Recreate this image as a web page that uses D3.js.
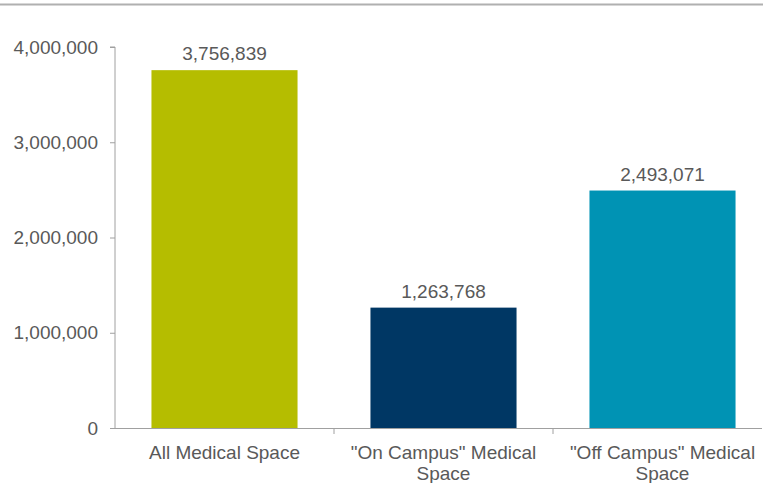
<!DOCTYPE html>
<html><head><meta charset="utf-8">
<script src="https://cdn.jsdelivr.net/npm/d3@7"></script>
<style>body{margin:0;background:#fff}svg{display:block}text{font-family:"Liberation Sans",Arial,sans-serif;fill:#595959}</style>
</head><body>
<svg id="c" width="770" height="483"></svg>
<script>
const categories = [["All Medical Space"], ["\"On Campus\" Medical", "Space"], ["\"Off Campus\" Medical", "Space"]];
const values = [3756839, 1263768, 2493071];
const colors = ["#b5bd00", "#003764", "#0093b4"];
const yTicks = [0, 1000000, 2000000, 3000000, 4000000];

const svg = d3.select("#c");
const fs = 19;
// top rule
svg.append("line").attr("x1", 0).attr("x2", 763).attr("y1", 4.5).attr("y2", 4.5)
  .attr("stroke", "#b0b0b0").attr("stroke-width", 2);

const x = d3.scaleBand().domain(d3.range(values.length)).range([115, 772]).padding(0);
const y = d3.scaleLinear().domain([0, 4000000]).range([428, 47]);
const bw = x.bandwidth() * 0.667;

// bars
svg.selectAll("rect.bar").data(values).join("rect").attr("class", "bar")
  .attr("x", (d, i) => x(i) + (x.bandwidth() - bw) / 2)
  .attr("width", bw)
  .attr("y", d => y(d)).attr("height", d => y(0) - y(d))
  .attr("fill", (d, i) => colors[i]);

// value labels
svg.selectAll("text.val").data(values).join("text").attr("class", "val")
  .attr("x", (d, i) => x(i) + x.bandwidth() / 2)
  .attr("y", d => y(d) - 10)
  .attr("text-anchor", "middle").attr("font-size", fs)
  .text(d => d3.format(",")(d));

// y axis
const ya = svg.append("g").attr("transform", "translate(115,0)")
  .call(d3.axisLeft(y).tickValues(yTicks).tickFormat(d3.format(",")).tickSize(5).tickPadding(12));
ya.select(".domain").attr("stroke", "#a0a0a0").attr("d", `M-5,${y(4000000)}H0V${y(0)}`);
ya.selectAll(".tick line").attr("stroke", "#a0a0a0");
ya.selectAll(".tick text").attr("font-size", fs).attr("fill", "#595959")
  .attr("font-family", "Liberation Sans, Arial, sans-serif");

// x axis
const xa = svg.append("g").attr("transform", `translate(0,${y(0)})`);
xa.append("line").attr("x1", 110).attr("x2", 762).attr("y1", 0.5).attr("y2", 0.5).attr("stroke", "#a0a0a0");
xa.selectAll("line.sep").data(d3.range(1, values.length)).join("line").attr("class", "sep")
  .attr("x1", d => x(d)).attr("x2", d => x(d)).attr("y1", 0).attr("y2", 6).attr("stroke", "#a0a0a0");
const lab = xa.selectAll("text.cat").data(categories).join("text").attr("class", "cat")
  .attr("text-anchor", "middle").attr("font-size", fs)
  .attr("transform", (d, i) => `translate(${x(i) + x.bandwidth() / 2},0)`);
lab.selectAll("tspan").data(d => d).join("tspan")
  .attr("x", 0).attr("y", (d, j) => 31 + j * 21).text(d => d);
</script>
</body></html>
